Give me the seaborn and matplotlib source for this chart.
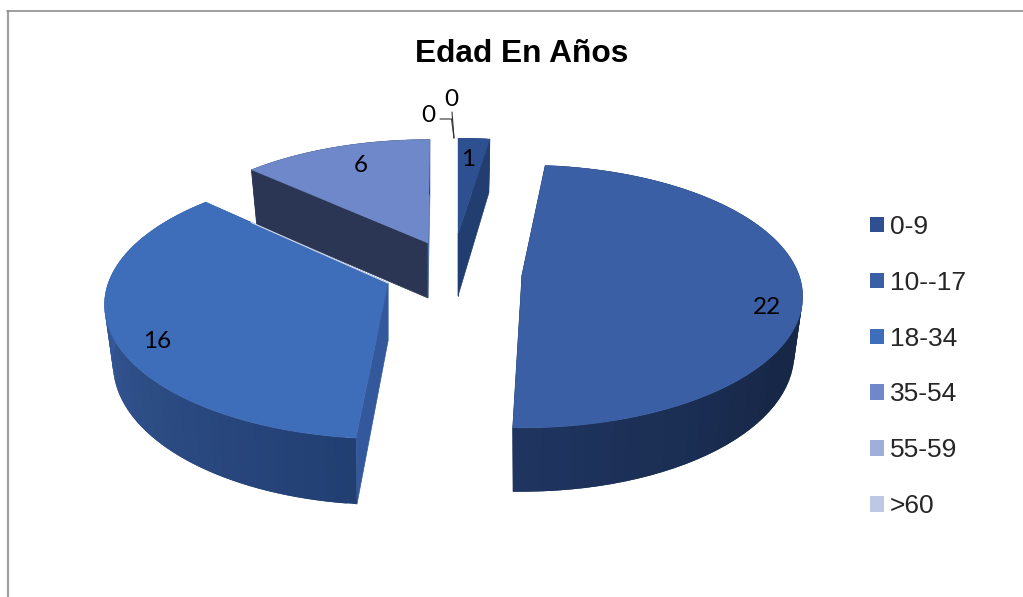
import numpy as np
import seaborn as sns
import matplotlib
matplotlib.use("Agg")
import matplotlib.pyplot as plt
from matplotlib.patches import Patch

# datos del grafico
edades = ["0-9", "10--17", "18-34", "35-54", "55-59", ">60"]
valores = [1, 22, 16, 6, 0, 0]
titulo = "Edad En Años"

# colores
colores = ["#2F5090", "#3A5FA5", "#3E6DB9", "#6E88C9", "#9FAFD9", "#BDC9E4"]
pared_ini = ["#2F5090", "#1F3560", "#33589B", "#2A3654"]
pared_fin = ["#223E70", "#1F3560", "#33589B", "#5570A8"]
borde = [
    ["#223E70", "#223E70"],
    ["#172747", "#172747", "#172747", "#1F3560"],
    ["#223F72", "#2C4C84", "#35599A", "#3A62A6"],
    ["#2A3654", "#2A3654"],
]

# geometria en pixeles de la "tarta" con perspectiva
R, RY, K = 277, 128, 0.163
grosor = [62, 56, 58, 55]
conico = [0.14, 0.14, 0.14, 0.0]
centros = [(458, 234), (522, 275), (388, 283), (428, 243)]
escala_x = [0.96, 1.0, 1.01, 0.96]
escala_y = [0.87, 1.0, 1.02, 0.94]
giro = [0, -2.4, 1.5, 0.5]
orden = [3, 0, 1, 2]

sns.set_theme(style="white")
plt.rcParams["font.family"] = ["Liberation Sans", "DejaVu Sans"]

fig, ax = plt.subplots(figsize=(10.23, 5.97), dpi=100)
fig.subplots_adjust(0, 0, 1, 1)
ax.set_xlim(0, 1023)
ax.set_ylim(597, 0)
ax.axis("off")

# marco recortado del grafico
ax.plot([8, 8], [597, 11], color="#A0A0A0", lw=1.6)
ax.plot([7, 1023], [10.5, 10.5], color="#8E8E8E", lw=1.2)


def arriba(i, ang):
    t = np.radians(ang)
    u, v = np.sin(t), np.cos(t)
    w = 1 + K * v
    cx, cy = centros[i]
    return cx + R * escala_x[i] * u / w, cy - RY * escala_y[i] * v / w


def abajo(i, ang):
    x, y = arriba(i, ang)
    cx = centros[i][0]
    return cx + (x - cx) * 0.97, y + grosor[i] * (1 - conico[i] * np.cos(np.radians(ang)))


def pieza(i, a1, a2):
    cx, cy = centros[i]
    ap = (cx, cy)
    ap2 = (cx, cy + grosor[i])
    # paredes de corte
    for ang, col in [(a1, pared_ini[i]), (a2, pared_fin[i])]:
        pts = [ap, arriba(i, ang), abajo(i, ang), ap2]
        ax.fill(*zip(*pts), color=col, lw=0.5)
    # borde exterior con degradado, cada tramo pisa al anterior para que no se vean juntas
    angs = np.linspace(a1, a2, 70)
    pal = sns.blend_palette(borde[i], len(angs) - 1)
    for j in range(len(angs) - 1):
        fin = angs[min(j + 2, len(angs) - 1)]
        pts = [arriba(i, angs[j]), arriba(i, fin), abajo(i, fin), abajo(i, angs[j])]
        ax.fill(*zip(*pts), color=pal[j], lw=0)
    # cara de arriba
    tapa = [ap] + [arriba(i, a) for a in np.linspace(a1, a2, 120)]
    ax.fill(*zip(*tapa), color=colores[i], lw=0.3)


fracc = np.array(valores) / sum(valores) * 360
inicios = np.concatenate([[0], np.cumsum(fracc)[:-1]])

for i in orden:
    pieza(i, inicios[i] + giro[i], inicios[i] + fracc[i] + giro[i])

# linea clara entre 18-34 y 35-54
ang16 = inicios[2] + fracc[2] + giro[2]
x16, y16 = arriba(2, ang16)
cx16, cy16 = centros[2]
ax.plot([cx16, cx16 + (x16 - cx16) * 0.75], [cy16, cy16 + (y16 - cy16) * 0.75],
        color="#D5DCEA", lw=0.8)

# etiquetas de datos
etiq_pos = [(468, 159), (767, 307), (157, 341), (361, 165), (428, 115), (451, 99)]
for val, (x, y) in zip(valores, etiq_pos):
    ax.text(x, y, str(val), ha="center", va="center", fontsize=17.5,
            family=["Lato", "DejaVu Sans"], color="black")

# lineas guia de los ceros
ax.plot([440, 451.5, 454], [119, 119, 138], color="#333333", lw=0.8)
ax.plot([452, 454], [112, 138], color="#333333", lw=0.8)

ax.text(522, 54, titulo, ha="center", va="center", fontsize=22.8, fontweight="bold", color="black")

handles = [Patch(facecolor=c, edgecolor="none", label=e) for c, e in zip(colores, edades)]
ax.legend(
    handles=handles,
    loc="upper left",
    bbox_to_anchor=(870 / 1023, 1 - 215 / 597),
    frameon=False,
    fontsize=19,
    handlelength=0.53,
    handleheight=0.53,
    handletextpad=0.22,
    labelspacing=1.206,
    borderpad=0,
    borderaxespad=0,
)

fig.savefig("out.png", dpi=100)
